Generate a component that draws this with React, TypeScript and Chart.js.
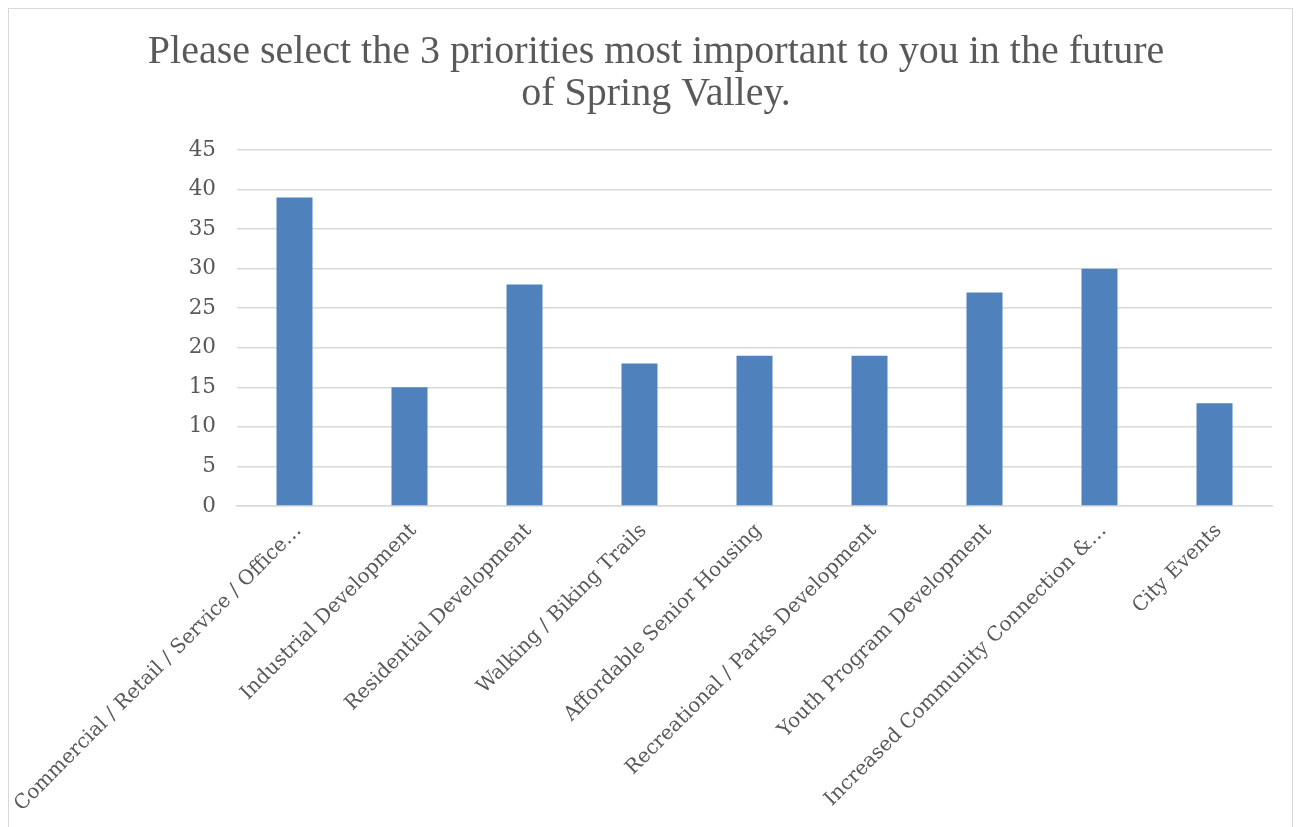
import React, { useEffect, useRef } from "react";
import { Chart, registerables } from "chart.js";

Chart.register(...registerables);

const chartTitle = [
  "Please select the 3 priorities most important to you in the future",
  "of Spring Valley.",
];
const categories = [
  "Commercial / Retail / Service / Office…",
  "Industrial Development",
  "Residential Development",
  "Walking / Biking Trails",
  "Affordable Senior Housing",
  "Recreational / Parks Development",
  "Youth Program Development",
  "Increased Community Connection &…",
  "City Events",
];
const counts = [39, 15, 28, 18, 19, 19, 27, 30, 13];
const yMax = 45;
const yStep = 5;

export default function App() {
  const ref = useRef<HTMLCanvasElement | null>(null);

  useEffect(() => {
    if (!ref.current) return;
    const chart = new Chart(ref.current, {
      type: "bar",
      data: {
        labels: categories,
        datasets: [
          {
            label: "Count",
            data: counts,
            backgroundColor: "#4f81bd",
            barPercentage: 0.313,
            categoryPercentage: 1,
          },
        ],
      },
      options: {
        animation: false,
        responsive: false,
        maintainAspectRatio: false,
        layout: { padding: { left: 31, right: 20, top: 0, bottom: 0 } },
        plugins: {
          legend: { display: false },
          tooltip: { enabled: false },
          title: {
            display: true,
            text: chartTitle,
            color: "#595959",
            font: { family: "Liberation Serif", size: 40, weight: "normal", lineHeight: 1.05 },
            padding: { top: 22, bottom: 35 },
          },
        },
        scales: {
          x: {
            grid: { display: false },
            border: { display: true, color: "#d9d9d9", width: 1.5 },
            ticks: {
              color: "#595959",
              font: { family: "DejaVu Serif", size: 20 },
              minRotation: 45,
              maxRotation: 45,
              autoSkip: false,
              padding: 5,
              labelOffset: 4,
            },
            afterFit: (scale: any) => {
              scale.height = 321;
              scale.paddingLeft = 0;
              scale.paddingRight = 0;
            },
          },
          y: {
            min: 0,
            max: yMax,
            grid: { color: "#d9d9d9", lineWidth: 1.5, drawTicks: false },
            border: { display: false },
            ticks: {
              stepSize: yStep,
              color: "#595959",
              font: { family: "DejaVu Serif", size: 21.5 },
              padding: 21,
            },
            afterFit: (scale: any) => {
              scale.width = 197;
              scale.paddingTop = 0;
              scale.paddingBottom = 0;
            },
          },
        },
      },
    });
    return () => chart.destroy();
  }, []);

  return (
    <div
      style={{
        width: 1285,
        height: 820,
        border: "1px solid #d9d9d9",
        boxSizing: "border-box",
        background: "#fff",
      }}
    >
      <canvas ref={ref} width={1283} height={818} style={{ display: "block" }} />
    </div>
  );
}
